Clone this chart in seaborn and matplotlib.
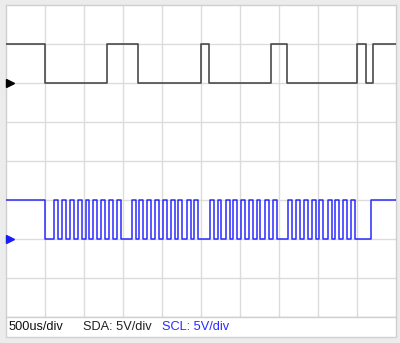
import matplotlib
matplotlib.use("Agg")
import matplotlib.pyplot as plt
import seaborn as sns
import pandas as pd
from matplotlib.patches import Rectangle

# ---- data (time in divisions, 500us/div) ----
sda_start_level = 1
sda_edges = [1.00, 2.59, 3.40, 5.00, 5.20, 6.80, 7.21, 9.01, 9.22, 9.40]

scl_start_level = 1
scl_edges = [1.00,
             1.24, 1.34, 1.44, 1.54, 1.65, 1.75, 1.85, 1.95, 2.05, 2.15,
             2.25, 2.35, 2.45, 2.55, 2.66, 2.76, 2.86, 2.96,
             3.23, 3.33, 3.43, 3.53, 3.63, 3.73, 3.83, 3.93, 4.03, 4.13,
             4.24, 4.34, 4.43, 4.53, 4.64, 4.74, 4.83, 4.93,
             5.24, 5.34, 5.43, 5.53, 5.64, 5.74, 5.83, 5.93, 6.04, 6.14,
             6.24, 6.34, 6.43, 6.53, 6.64, 6.74, 6.84, 6.94,
             7.24, 7.34, 7.44, 7.54, 7.64, 7.74, 7.84, 7.94, 8.04, 8.14,
             8.25, 8.35, 8.44, 8.54, 8.65, 8.75, 8.84, 8.94,
             9.36]

sda_base, scl_base = 6, 2          # ground level (in vertical divisions)
labels = ["500us/div", "SDA: 5V/div", "SCL: 5V/div"]
label_colors = ["#111111", "#222222", "#2a2aff"]


def waveform(edges, start, base, name):
    t = [0.0]
    v = [base + start]
    lvl = start
    for e in edges:
        lvl = 1 - lvl
        t.append(e)
        v.append(base + lvl)
    t.append(10.0)
    v.append(base + lvl)
    return pd.DataFrame({"t": t, "v": v, "ch": name})


sda = waveform(sda_edges, sda_start_level, sda_base, "SDA")
scl = waveform(scl_edges, scl_start_level, scl_base, "SCL")

sns.set_style("white")
plt.rcParams["font.family"] = ["Liberation Sans", "DejaVu Sans"]

fig = plt.figure(figsize=(4.0, 3.43), dpi=100, facecolor="#ececec")
ax = fig.add_axes([5.5 / 400, 1 - 316.5 / 343, 390.5 / 400, 312 / 343])
ax.set_facecolor("white")

# grid
for i in range(1, 10):
    ax.axvline(i, color="#dcdcdc", lw=1.0, zorder=0)
for j in range(1, 8):
    ax.axhline(j, color="#dcdcdc", lw=1.0, zorder=0)

sns.lineplot(data=sda, x="t", y="v", ax=ax, estimator=None, sort=False,
             drawstyle="steps-post", color="#4a4a4a", lw=1.2, zorder=3)
sns.lineplot(data=scl, x="t", y="v", ax=ax, estimator=None, sort=False,
             drawstyle="steps-post", color="#2a2aff", lw=1.1, zorder=3)

# ground markers
ax.plot([0.12], [sda_base], marker=">", color="black", ms=6, clip_on=False, zorder=5)
ax.plot([0.12], [scl_base], marker=">", color="#1a1aff", ms=6, clip_on=False, zorder=5)

ax.set_xlim(0, 10)
ax.set_ylim(0, 8)
ax.set_xticks([])
ax.set_yticks([])
ax.set_xlabel("")
ax.set_ylabel("")
for s in ax.spines.values():
    s.set_color("#cfcfcf")
    s.set_linewidth(1.0)

# label strip
fig.patches.append(Rectangle((5.5 / 400, 1 - 336.5 / 343), 390.5 / 400, 20 / 343,
                             transform=fig.transFigure, facecolor="white",
                             edgecolor="#d0d0d0", lw=1.0, zorder=0))
xs = [9 / 400, 83 / 400, 162 / 400]
for x, txt, c in zip(xs, labels, label_colors):
    fig.text(x, 1 - 327.5 / 343, txt, color=c, fontsize=9.2, va="center", ha="left")

fig.savefig("out.png", dpi=100, facecolor=fig.get_facecolor())
